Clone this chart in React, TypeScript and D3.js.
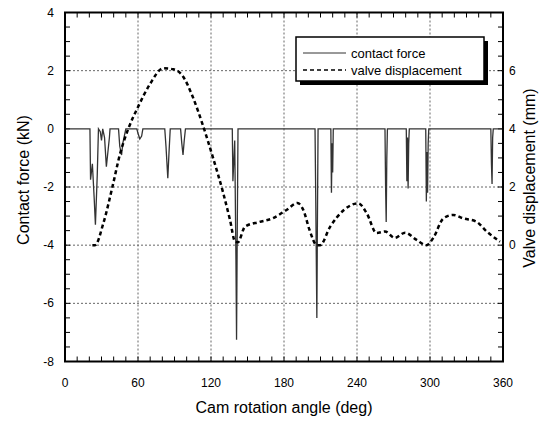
import React from "react";
import * as d3 from "d3";

const valveAngles = [22.5, 24.7, 31.5, 39.5, 45, 52, 60, 70, 80.6, 89, 97, 105, 113.5, 121.7, 130, 135.6, 139.8, 142, 148, 160, 171, 182, 191, 196, 201, 207, 209.6, 218, 229, 241, 248, 256, 263, 271, 279.5, 289, 297, 302.7, 311, 319, 327.4, 338, 346.6, 357.5];
const valveMm = [0, 0, 0.75, 2.1, 3.1, 4.0, 4.75, 5.55, 6.08, 6.05, 5.8, 5.1, 4.1, 3.0, 1.8, 0.87, 0.12, 0.1, 0.64, 0.8, 0.93, 1.21, 1.45, 1.2, 0.52, 0, 0, 0.64, 1.2, 1.44, 1.1, 0.42, 0.47, 0.25, 0.43, 0.18, 0, 0.25, 0.92, 1.04, 0.92, 0.81, 0.47, 0.12];

const forceAngles = [0, 20.5, 21, 22.5, 24, 25, 26.5, 27.5, 29, 30, 31, 32.5, 34, 35, 36.5, 37, 44, 45, 46.5, 47.5, 49, 50, 59, 60, 61.5, 63, 64, 82, 83, 84.5, 85.5, 86.5, 95, 96, 97, 98, 99,
  137.5, 138, 139.5, 140.5, 141, 141.5, 142.2,
  205.5, 206, 207, 207.5, 208, 218.5, 219, 219.5, 220, 220.5,
  263, 263.5, 264, 264.5, 265, 280.5, 281, 281.5, 282, 282.5, 283,
  296.5, 297, 297.5, 298, 298.5, 299, 350, 350.5, 351, 351.5, 352, 360];
const forceKn = [0, 0, -1.75, -1.2, -2.4, -3.3, -1.6, 0, -0.1, -0.4, 0, -0.3, -1.3, -0.9, -0.3, 0, 0, -0.6, -0.9, -0.5, -0.2, 0, 0, -0.15, -0.35, -0.25, 0, 0, -0.6, -1.7, -0.8, 0, 0, -0.5, -0.9, -0.4, 0,
  0, -1.8, -0.4, -4.5, -7.25, -4, 0,
  0, -2.0, -6.5, -3, 0, 0, -2.2, -0.5, -1.5, 0,
  0, -2.0, -3.2, -1, 0, 0, -1.8, -0.3, -2.05, -0.5, 0,
  0, -2.5, -0.8, -2.2, -0.5, 0, 0, -1.2, -1.9, -0.3, 0, 0];

const xTickLabels = [0, 60, 120, 180, 240, 300, 360];
const leftTickLabels = [4, 2, 0, -2, -4, -6, -8];
const rightTickLabels = [0, 2, 4, 6];
const xGrid = [60, 120, 180, 240, 300];
const yGrid = [2, -2, -4, -6];

export default function App() {
  const W = 557, H = 424;
  const L = 65, R = 503, T = 12.5, B = 361.5;
  const x = d3.scaleLinear().domain([0, 360]).range([L, R]);
  const yF = d3.scaleLinear().domain([-8, 4]).range([B, T]);
  const yV = d3.scaleLinear().domain([-4, 8]).range([B, T]);
  const font = "'Liberation Sans', Arial, Helvetica, sans-serif";

  const forceLine = d3.line<number>().x((d, i) => x(forceAngles[i])).y((d) => yF(d))(forceKn) || "";
  const valveLine = d3.line<number>().x((d, i) => x(valveAngles[i])).y((d) => yV(d)).curve(d3.curveMonotoneX)(valveMm) || "";

  const xMinor = d3.range(0, 361, 10);
  const yMinor = d3.range(-8, 4.01, 0.5);
  const tl = 5;

  return (
    <svg width={W} height={H} style={{ position: "absolute", left: 0, top: 0, background: "#fff" }} fontFamily={font}>
      {xGrid.map((g) => (
        <line key={"gx" + g} x1={x(g)} x2={x(g)} y1={T} y2={B} stroke="#666" strokeWidth={1} strokeDasharray="2,2" />
      ))}
      {yGrid.map((g) => (
        <line key={"gy" + g} x1={L} x2={R} y1={yF(g)} y2={yF(g)} stroke="#666" strokeWidth={1} strokeDasharray="2,2" />
      ))}
      {xMinor.map((v) => (
        <g key={"xt" + v}>
          <line x1={x(v)} x2={x(v)} y1={B} y2={B - tl} stroke="#000" strokeWidth={1} />
          <line x1={x(v)} x2={x(v)} y1={T} y2={T + tl} stroke="#000" strokeWidth={1} />
        </g>
      ))}
      {yMinor.map((v) => (
        <g key={"yt" + v}>
          <line x1={L} x2={L + tl} y1={yF(v)} y2={yF(v)} stroke="#000" strokeWidth={1} />
          <line x1={R} x2={R - tl} y1={yF(v)} y2={yF(v)} stroke="#000" strokeWidth={1} />
        </g>
      ))}
      <path d={forceLine} fill="none" stroke="#333" strokeWidth={1.3} />
      <path d={valveLine} fill="none" stroke="#000" strokeWidth={2.5} strokeDasharray="4,3" />
      <rect x={L} y={T} width={R - L} height={B - T} fill="none" stroke="#000" strokeWidth={2} />
      {xTickLabels.map((v) => (
        <text key={"xl" + v} x={x(v)} y={B + 25} textAnchor="middle" fontSize={12} fill="#000">{v}</text>
      ))}
      {leftTickLabels.map((v) => (
        <text key={"ll" + v} x={54} y={yF(v) + 4} textAnchor="end" fontSize={12} fill="#000">{v}</text>
      ))}
      {rightTickLabels.map((v) => (
        <text key={"rl" + v} x={509} y={yV(v) + 4} textAnchor="start" fontSize={12} fill="#000">{v}</text>
      ))}
      <text x={(L + R) / 2} y={413} textAnchor="middle" fontSize={16} fill="#000">Cam rotation angle (deg)</text>
      <text transform={`translate(29,180) rotate(-90)`} textAnchor="middle" fontSize={16} fill="#000">Contact force (kN)</text>
      <text transform={`translate(535,178) rotate(-90)`} textAnchor="middle" fontSize={16} fill="#000">Valve displacement (mm)</text>
      <rect x={300} y={41} width={188} height={44} fill="#000" />
      <rect x={296} y={37} width={188} height={44} fill="#fff" stroke="#000" strokeWidth={1.5} />
      <line x1={303} x2={346} y1={53} y2={53} stroke="#333" strokeWidth={1} />
      <line x1={303} x2={346} y1={70} y2={70} stroke="#000" strokeWidth={1.5} strokeDasharray="4,3" />
      <text x={351} y={57.5} fontSize={13} fill="#000">contact force</text>
      <text x={351} y={74.5} fontSize={13} fill="#000">valve displacement</text>
    </svg>
  );
}
